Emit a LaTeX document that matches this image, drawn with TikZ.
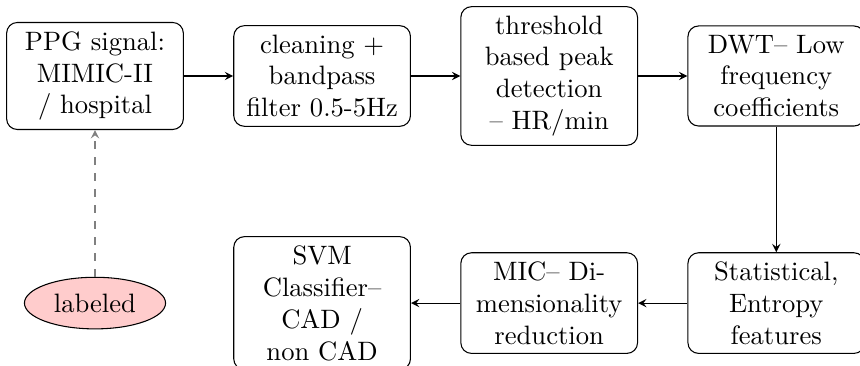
\documentclass[tikz,border=0pt]{standalone}
\usetikzlibrary{shapes.geometric,arrows}
\begin{document}
\begin{tikzpicture}[blk/.style={draw,rounded corners,text width=2.1cm,align=center},
lbl/.style={draw,ellipse,fill=red!20}]
\useasboundingbox (-1.255,-3.831) rectangle (10.106,1.004);
\node[blk] (ppg) at (0,0) {PPG signal: MIMIC-II / hospital};
\node[blk] (clean) at (3,0) {cleaning + bandpass filter 0.5-5Hz};
\node[blk] (peak) at (6,0) {threshold based peak detection -- HR/min};
\node[blk] (dwt) at (9,0) {DWT-- Low frequency coefficients};
\node[blk] (feat) at (9,-3) {Statistical, Entropy features};
\node[blk] (mic) at (6,-3) {MIC-- Dimensionality reduction};
\node[blk] (svm) at (3,-3) {SVM Classifier-- CAD / non CAD};
\node[lbl] (lab) at (0,-3) {labeled};

\draw[-stealth] (ppg) -- (clean);
\draw[-stealth] (clean) -- (peak);
\draw[-stealth] (peak) -- (dwt);
\draw[-stealth] (dwt) -- (feat);
\draw[-stealth] (feat) -- (mic);
\draw[-stealth] (mic) -- (svm);
\draw[gray,dashed,-stealth] (lab) -- (ppg);
\end{tikzpicture}
\end{document}
